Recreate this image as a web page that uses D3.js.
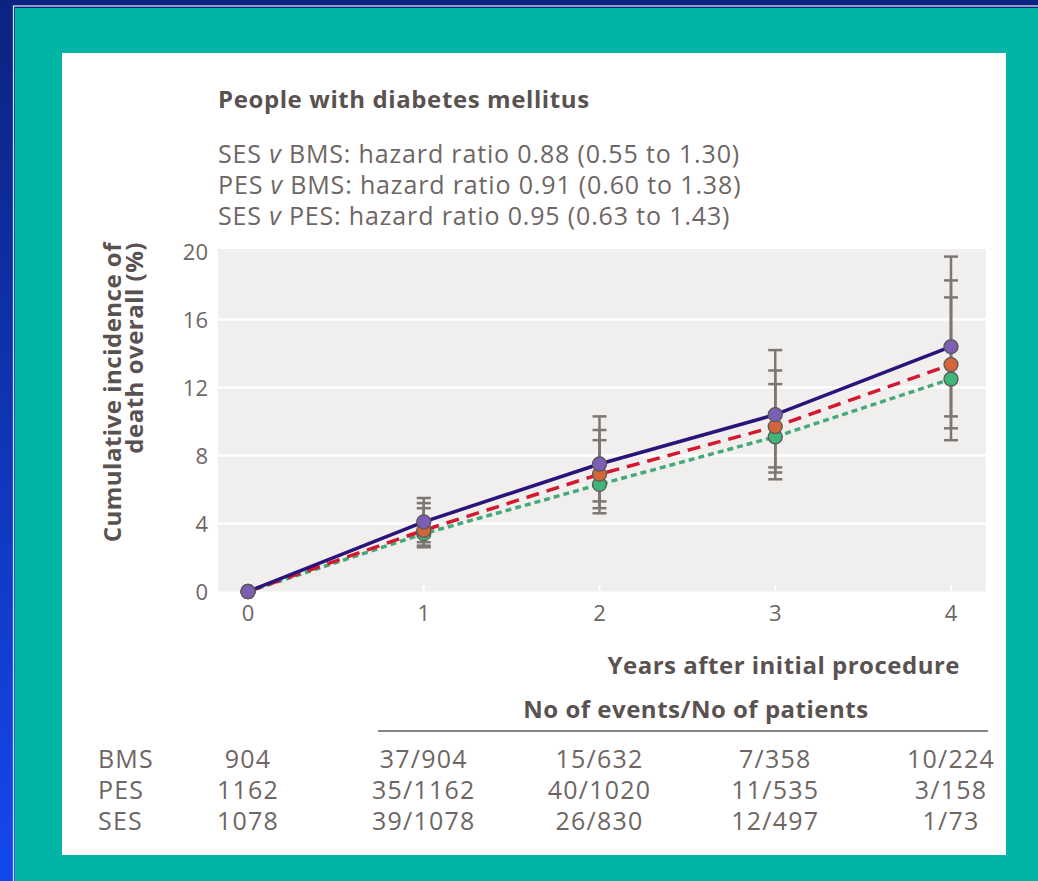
<!DOCTYPE html>
<html>
<head>
<meta charset="utf-8">
<script src="https://cdn.jsdelivr.net/npm/d3@7"></script>
<style>
  body { margin: 0; background: #0b2380; }
  svg { display: block; font-family: "Open Sans", Lato, sans-serif; }
</style>
</head>
<body>
<div class="chart"></div>
<script>
var years = [0, 1, 2, 3, 4];
var yTicks = [0, 4, 8, 12, 16, 20];
var groups = ['BMS', 'PES', 'SES'];

// cumulative incidence (%) per year
var bmsValues = [0, 4.1, 7.5, 10.4, 14.4];
var pesValues = [0, 3.6, 6.9, 9.7, 13.35];
var sesValues = [0, 3.4, 6.3, 9.1, 12.5];

// 95% CI lower / upper
var bmsLower = [null, 2.9, 5.3, 7.3, 10.3];
var bmsUpper = [null, 5.5, 10.3, 14.2, 19.7];
var pesLower = [null, 2.7, 4.9, 7.0, 9.6];
var pesUpper = [null, 5.2, 9.5, 13.0, 18.3];
var sesLower = [null, 2.6, 4.6, 6.6, 8.9];
var sesUpper = [null, 4.9, 8.9, 12.2, 17.3];

var subtitles = [
  ['SES', 'BMS', '0.88 (0.55 to 1.30)'],
  ['PES', 'BMS', '0.91 (0.60 to 1.38)'],
  ['SES', 'PES', '0.95 (0.63 to 1.43)']
];

// risk table
var atRisk = [904, 1162, 1078];
var bmsEvents = ['37/904', '15/632', '7/358', '10/224'];
var pesEvents = ['35/1162', '40/1020', '11/535', '3/158'];
var sesEvents = ['39/1078', '26/830', '12/497', '1/73'];

var series = [
  {id: 'SES', values: sesValues, lower: sesLower, upper: sesUpper, line: '#46aa78', dash: '6,4', dot: '#3fb57a'},
  {id: 'PES', values: pesValues, lower: pesLower, upper: pesUpper, line: '#d4182f', dash: '13,8', dot: '#d2653a'},
  {id: 'BMS', values: bmsValues, lower: bmsLower, upper: bmsUpper, line: '#2b1379', dash: null, dot: '#7b5fb5'}
];
var tableRows = [
  {id: 'BMS', n: atRisk[0], events: bmsEvents},
  {id: 'PES', n: atRisk[1], events: pesEvents},
  {id: 'SES', n: atRisk[2], events: sesEvents}
];

var W = 1038, H = 881;
var svg = d3.select('.chart').append('svg')
  .attr('width', W)
  .attr('height', H);

// frame
var defs = svg.append('defs');
var grad = defs.append('linearGradient')
  .attr('id', 'bg')
  .attr('x1', 0).attr('y1', 0).attr('x2', 0).attr('y2', 1);
grad.append('stop').attr('offset', '0%').attr('stop-color', '#0b2380');
grad.append('stop').attr('offset', '100%').attr('stop-color', '#1448ee');
svg.append('rect').attr('width', W).attr('height', H).attr('fill', 'url(#bg)');
svg.append('rect')
  .attr('x', 13.5).attr('y', 6)
  .attr('width', W).attr('height', H)
  .attr('fill', 'none')
  .attr('stroke', '#d4dcf2')
  .attr('stroke-width', 1.3);
svg.append('rect')
  .attr('x', 15).attr('y', 8)
  .attr('width', W).attr('height', H)
  .attr('fill', '#00b5a5');
svg.append('rect')
  .attr('x', 62).attr('y', 53)
  .attr('width', 944).attr('height', 802)
  .attr('fill', '#ffffff');

var x = d3.scaleLinear()
  .domain([0, 4])
  .range([248, 951]);
var y = d3.scaleLinear()
  .domain([0, 20])
  .range([591.5, 251.5]);

var textCol = '#6e6663';
var boldCol = '#5a5250';

// titles
svg.append('text')
  .attr('x', 218)
  .attr('y', 108)
  .attr('font-size', '24px')
  .attr('font-weight', 'bold')
  .attr('letter-spacing', '0.6px')
  .attr('fill', boldCol)
  .text('People with diabetes mellitus');

subtitles.forEach(function (s, i) {
  var t = svg.append('text')
    .attr('x', 218)
    .attr('y', 163 + i * 31)
    .attr('font-size', '25px')
    .attr('letter-spacing', '0.85px')
    .attr('fill', textCol);
  t.append('tspan').text(s[0] + ' ');
  t.append('tspan').attr('font-style', 'italic').text('v');
  t.append('tspan').text(' ' + s[1] + ': hazard ratio ' + s[2]);
});

// plot background + grid
svg.append('rect')
  .attr('x', 218)
  .attr('y', 249)
  .attr('width', 768)
  .attr('height', y(0) - 249)
  .attr('fill', '#f0efee');

svg.append('g')
  .selectAll('line')
  .data(yTicks.filter(function (d) { return d > 0 && d < 20; }))
  .enter().append('line')
  .attr('x1', 218).attr('x2', 986)
  .attr('y1', function (d) { return y(d); })
  .attr('y2', function (d) { return y(d); })
  .attr('stroke', '#ffffff')
  .attr('stroke-width', 2.5);

svg.append('g')
  .selectAll('line')
  .data(years)
  .enter().append('line')
  .attr('x1', function (d) { return x(d); })
  .attr('x2', function (d) { return x(d); })
  .attr('y1', y(0) - 6)
  .attr('y2', y(0))
  .attr('stroke', '#ffffff')
  .attr('stroke-width', 2);

// axes labels
svg.append('g')
  .selectAll('text')
  .data(yTicks)
  .enter().append('text')
  .attr('x', 208)
  .attr('y', function (d) { return y(d) + 8; })
  .attr('text-anchor', 'end')
  .attr('font-size', '22px')
  .attr('fill', textCol)
  .text(function (d) { return d; });

svg.append('g')
  .selectAll('text')
  .data(years)
  .enter().append('text')
  .attr('x', function (d) { return x(d); })
  .attr('y', 621)
  .attr('text-anchor', 'middle')
  .attr('font-size', '22px')
  .attr('fill', textCol)
  .text(function (d) { return d; });

var ylab = svg.append('text')
  .attr('transform', 'rotate(-90)')
  .attr('font-size', '24px')
  .attr('font-weight', 'bold')
  .attr('letter-spacing', '0.5px')
  .attr('fill', boldCol)
  .attr('text-anchor', 'end');
ylab.append('tspan').attr('x', -242).attr('y', 121).text('Cumulative incidence of');
ylab.append('tspan').attr('x', -242).attr('y', 143).text('death overall (%)');

svg.append('text')
  .attr('x', 960)
  .attr('y', 674)
  .attr('text-anchor', 'end')
  .attr('font-size', '24px')
  .attr('font-weight', 'bold')
  .attr('letter-spacing', '0.5px')
  .attr('fill', boldCol)
  .text('Years after initial procedure');

// error bars
var ci = [];
series.forEach(function (s) {
  years.forEach(function (yr, i) {
    if (s.lower[i] !== null) {
      ci.push({year: yr, lo: s.lower[i], hi: s.upper[i]});
    }
  });
});
var bars = svg.append('g')
  .attr('stroke', '#7d7673')
  .attr('stroke-width', 2.5);
bars.selectAll('.bar')
  .data(ci)
  .enter().append('line')
  .attr('class', 'bar')
  .attr('x1', function (d) { return x(d.year); })
  .attr('x2', function (d) { return x(d.year); })
  .attr('y1', function (d) { return y(d.lo); })
  .attr('y2', function (d) { return y(d.hi); });
bars.selectAll('.caplo')
  .data(ci)
  .enter().append('line')
  .attr('class', 'caplo')
  .attr('x1', function (d) { return x(d.year) - 7; })
  .attr('x2', function (d) { return x(d.year) + 7; })
  .attr('y1', function (d) { return y(d.lo); })
  .attr('y2', function (d) { return y(d.lo); });
bars.selectAll('.caphi')
  .data(ci)
  .enter().append('line')
  .attr('class', 'caphi')
  .attr('x1', function (d) { return x(d.year) - 7; })
  .attr('x2', function (d) { return x(d.year) + 7; })
  .attr('y1', function (d) { return y(d.hi); })
  .attr('y2', function (d) { return y(d.hi); });

// lines
var line = d3.line()
  .x(function (d, i) { return x(years[i]); })
  .y(function (d) { return y(d); });

svg.append('g')
  .selectAll('path')
  .data(series)
  .enter().append('path')
  .attr('d', function (d) { return line(d.values); })
  .attr('fill', 'none')
  .attr('stroke', function (d) { return d.line; })
  .attr('stroke-width', 3.5)
  .attr('stroke-dasharray', function (d) { return d.dash; });

// markers
series.forEach(function (s) {
  svg.append('g')
    .selectAll('circle')
    .data(s.values)
    .enter().append('circle')
    .attr('cx', function (d, i) { return x(years[i]); })
    .attr('cy', function (d) { return y(d); })
    .attr('r', 7)
    .attr('fill', s.dot)
    .attr('stroke', '#5c5856')
    .attr('stroke-width', 1.3);
});

// risk table
svg.append('text')
  .attr('x', 696)
  .attr('y', 718)
  .attr('text-anchor', 'middle')
  .attr('font-size', '24px')
  .attr('font-weight', 'bold')
  .attr('letter-spacing', '0.5px')
  .attr('fill', boldCol)
  .text('No of events/No of patients');

svg.append('line')
  .attr('x1', 378).attr('x2', 988)
  .attr('y1', 731).attr('y2', 731)
  .attr('stroke', '#8a8583')
  .attr('stroke-width', 2);

var rows = svg.append('g')
  .selectAll('g')
  .data(tableRows)
  .enter().append('g')
  .attr('transform', function (d, i) { return 'translate(0,' + (768 + i * 31) + ')'; })
  .attr('font-size', '25px')
  .attr('letter-spacing', '1.2px')
  .attr('fill', textCol);

rows.append('text')
  .attr('x', 98)
  .text(function (d) { return d.id; });
rows.append('text')
  .attr('x', x(0))
  .attr('text-anchor', 'middle')
  .text(function (d) { return d.n; });
rows.selectAll('.ev')
  .data(function (d) { return d.events; })
  .enter().append('text')
  .attr('class', 'ev')
  .attr('x', function (d, i) { return x(years[i + 1]); })
  .attr('text-anchor', 'middle')
  .text(function (d) { return d; });
</script>
</body>
</html>
